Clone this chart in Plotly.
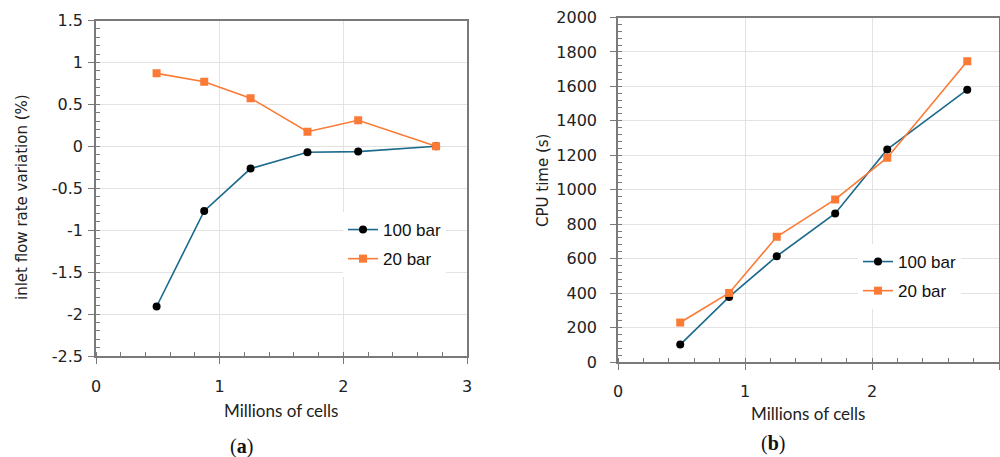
import plotly.graph_objects as go

# ---- data ----
cells = [0.49, 0.875, 1.25, 1.71, 2.12, 2.75]
flow_100bar = [-1.91, -0.77, -0.265, -0.07, -0.063, 0.0]
flow_20bar = [0.87, 0.77, 0.574, 0.174, 0.31, 0.0]
cpu_100bar = [101, 378, 614, 862, 1234, 1581]
cpu_20bar = [229, 401, 727, 944, 1186, 1746]

x_ticks = [0, 1, 2, 3]
x_ticktext = ["0", "1", "2", "3"]
flow_ticks = [-2.5, -2, -1.5, -1, -0.5, 0, 0.5, 1, 1.5]
flow_ticktext = ["-2.5", "-2", "-1.5", "-1", "-0.5", "0", "0.5", "1", "1.5"]
cpu_ticks = [0, 200, 400, 600, 800, 1000, 1200, 1400, 1600, 1800, 2000]
cpu_ticktext = [str(v) for v in cpu_ticks]

series_names = ["100 bar", "20 bar"]

BLUE = "#1b6a8c"
ORANGE = "#fb7a35"
W, H = 1000, 457

fig = go.Figure()

def add(x, y, name, color, mcolor, symbol, xa, ya, legend, group):
    fig.add_trace(go.Scatter(
        x=x, y=y, name=name, mode="lines+markers",
        line=dict(color=color, width=1.6),
        marker=dict(color=mcolor, symbol=symbol, size=8),
        xaxis=xa, yaxis=ya, legend=legend, legendgroup=group,
    ))

add(cells, flow_100bar, series_names[0], BLUE, "#000000", "circle", "x", "y", "legend", "a1")
add(cells, flow_20bar, series_names[1], ORANGE, ORANGE, "square", "x", "y", "legend", "a2")
add(cells, cpu_100bar, series_names[0], BLUE, "#000000", "circle", "x2", "y2", "legend2", "b1")
add(cells, cpu_20bar, series_names[1], ORANGE, ORANGE, "square", "x2", "y2", "legend2", "b2")

tickfont = dict(family="DejaVu Sans", size=16, color="#222222")
common = dict(
    showline=True, mirror=True, linecolor="#7a7a7a", linewidth=1.5,
    showgrid=True, gridcolor="#e3e3e3", gridwidth=1, zeroline=False,
    ticks="outside", ticklen=6, tickcolor="#7a7a7a", tickwidth=1,
    tickfont=tickfont, automargin=False,
)

def px_x(v):
    return v / W

def px_y(v):
    return 1 - v / H

fig.update_layout(
    width=W, height=H, margin=dict(l=0, r=0, t=0, b=0, autoexpand=False),
    paper_bgcolor="white", plot_bgcolor="white",
    showlegend=True,
    xaxis=dict(domain=[px_x(96), px_x(467)], range=[0, 3], tickvals=x_ticks, ticktext=x_ticktext,
               anchor="y", ticklabelstandoff=9,
               minor=dict(ticks="inside", ticklen=4, dtick=0.2, tickcolor="#7a7a7a", showgrid=False),
               **common),
    yaxis=dict(domain=[px_y(356), px_y(20.5)], range=[-2.5, 1.5], tickvals=flow_ticks, ticktext=flow_ticktext,
               anchor="x", ticklabelstandoff=2,
               minor=dict(ticks="inside", ticklen=4, dtick=0.1, tickcolor="#7a7a7a", showgrid=False),
               **common),
    xaxis2=dict(domain=[px_x(618), px_x(999)], range=[0, 3], tickvals=x_ticks, ticktext=x_ticktext,
                anchor="y2", ticklabelstandoff=8,
                minor=dict(ticks="inside", ticklen=4, dtick=0.2, tickcolor="#7a7a7a", showgrid=False),
                **common),
    yaxis2=dict(domain=[px_y(362), px_y(17.5)], range=[0, 2000], tickvals=cpu_ticks, ticktext=cpu_ticktext,
                anchor="x2", ticklabelstandoff=10,
                minor=dict(ticks="inside", ticklen=4, dtick=40, tickcolor="#7a7a7a", showgrid=False),
                **common),
    legend=dict(x=px_x(343), y=px_y(212), xanchor="left", yanchor="top",
                bgcolor="white", borderwidth=0, tracegroupgap=4,
                font=dict(family="Liberation Sans", size=17, color="#111111")),
    legend2=dict(x=px_x(858), y=px_y(244), xanchor="left", yanchor="top",
                 bgcolor="white", borderwidth=0, tracegroupgap=4,
                 font=dict(family="Liberation Sans", size=17, color="#111111")),
)

ann_font = dict(family="DejaVu Sans", size=15, color="#222222")
title_font = dict(family="Lato", size=17, color="#222222")
cap_font = dict(family="Liberation Serif", size=20, color="#111111")

annotations = [
    dict(text="inlet flow rate variation (%)", x=px_x(22), y=px_y(197), textangle=-90, font=ann_font),
    dict(text="CPU time (s)", x=px_x(543), y=px_y(181), textangle=-90, font=ann_font),
    dict(text="Millions of cells", x=px_x(281), y=px_y(410), font=title_font),
    dict(text="Millions of cells", x=px_x(808), y=px_y(413), font=title_font),
    dict(text="(<b>a</b>)", x=px_x(241), y=px_y(446), font=cap_font),
    dict(text="(<b>b</b>)", x=px_x(773), y=px_y(443), font=cap_font),
]
for a in annotations:
    fig.add_annotation(xref="paper", yref="paper", showarrow=False,
                       xanchor="center", yanchor="middle", **a)

fig.write_html("out.html")
